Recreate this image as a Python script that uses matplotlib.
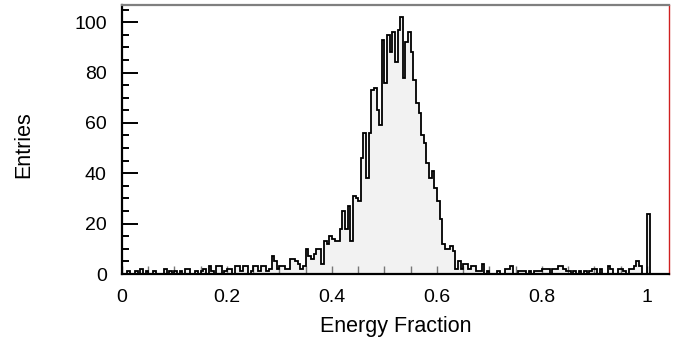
import numpy as np
import matplotlib.pyplot as plt
from matplotlib.ticker import MultipleLocator

plt.rcParams['font.family'] = ['Liberation Sans', 'DejaVu Sans']

# bin edges: 0.005 wide, 0 .. 1.04
bin_width = 0.005
n_bins = 208

# counts per bin (bins with no entry stay 0)
counts = np.zeros(n_bins)
low_left = {2: 1, 5: 1, 7: 2, 9: 1, 12: 1, 16: 2, 18: 1, 20: 1, 22: 1, 24: 2, 25: 2,
            28: 1, 30: 1, 31: 2, 33: 3, 34: 1, 36: 3, 37: 3, 39: 1, 40: 2, 41: 2,
            43: 3, 44: 3, 45: 1, 46: 3, 47: 3, 49: 1, 50: 3, 51: 3, 52: 1, 53: 3,
            54: 3, 55: 1, 56: 2, 57: 7, 58: 5, 59: 2, 60: 3, 61: 3, 62: 2, 63: 2,
            64: 6, 65: 6, 66: 5, 67: 4}
peak = [2, 3, 10, 7, 6, 8, 10, 10, 4, 13, 12, 15, 14, 13, 13, 18, 25, 18, 27, 13,
        31, 30, 29, 46, 56, 38, 56, 73, 74, 65, 59, 93, 76, 95, 88, 96, 84, 97, 102,
        78, 92, 96, 88, 77, 68, 64, 55, 52, 44, 38, 41, 34, 29, 22, 12, 10, 10, 11, 9]
peak_start = 68
low_right = {127: 2, 128: 5, 129: 2, 130: 4, 131: 4, 132: 2, 133: 3, 134: 3, 135: 1,
             136: 1, 137: 4, 139: 1, 143: 1, 146: 2, 147: 2, 148: 3, 151: 1, 152: 1,
             153: 1, 155: 1, 157: 1, 158: 1, 159: 1, 160: 2, 161: 2, 162: 2, 164: 2,
             165: 2, 166: 3, 167: 3, 168: 2, 169: 1, 170: 1, 172: 1, 174: 1, 176: 1,
             178: 1, 179: 2, 180: 2, 182: 2, 185: 3, 186: 2, 189: 2, 190: 2, 191: 1,
             193: 2, 194: 2, 195: 3, 196: 5, 197: 3, 200: 24}

for k, v in low_left.items():
    counts[k] = v
counts[peak_start:peak_start + len(peak)] = peak
for k, v in low_right.items():
    counts[k] = v

edges = np.arange(n_bins + 1) * bin_width

fig = plt.figure(figsize=(6.83, 3.48), dpi=100)
ax = fig.add_axes([0.1786, 0.2126, 0.9795 - 0.1786, 0.9848 - 0.2126])

ax.stairs(counts, edges, fill=True, color='#f2f2f2', zorder=1)
ax.stairs(counts, edges, color='black', linewidth=1.3, baseline=0, zorder=2)

ax.set_xlim(0, 1.042)
ax.set_ylim(0, 106.7)

ax.xaxis.set_minor_locator(MultipleLocator(0.05))
ax.yaxis.set_major_locator(MultipleLocator(20))
ax.yaxis.set_minor_locator(MultipleLocator(5))
ax.set_xticks([0, 0.2, 0.4, 0.6, 0.8, 1.0])
ax.set_xticklabels(['0', '0.2', '0.4', '0.6', '0.8', '1'])

ax.tick_params(axis='y', which='major', direction='in', length=11.5, width=1.4,
               labelsize=14, pad=11)
ax.tick_params(axis='y', which='minor', direction='in', length=5, width=1.4)
ax.tick_params(axis='x', which='major', direction='in', length=6, width=1,
               color='#777777', labelsize=14, pad=11)
ax.tick_params(axis='x', which='minor', direction='in', length=6, width=1,
               color='#777777')

for side in ['left', 'bottom']:
    ax.spines[side].set_linewidth(1.6)
    ax.spines[side].set_color('black')
ax.spines['top'].set_color('#7f7f7f')
ax.spines['top'].set_linewidth(1.6)
ax.spines['right'].set_color('#d02020')
ax.spines['right'].set_linewidth(1.0)
for s in ax.spines.values():
    s.set_zorder(3)

ax.set_xlabel('Energy Fraction', fontsize=15.5, labelpad=7)
ax.set_ylabel('Entries', fontsize=15.5)
ax.yaxis.set_label_coords(-0.16, 0.48)

fig.savefig('out.png', dpi=100)
